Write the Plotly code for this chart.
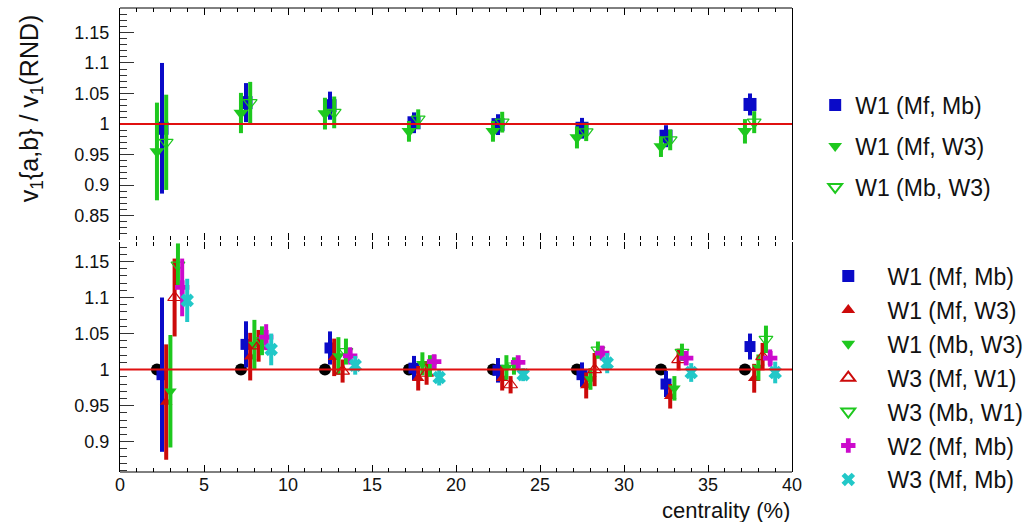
import plotly.graph_objects as go

# centrality bin centres (%)
centrality = [2.5, 7.5, 12.5, 17.5, 22.5, 27.5, 32.5, 37.5]

# v1{a,b} / v1(RND) ratios and their uncertainties
w1_mf_mb = [0.993, 1.035, 1.030, 1.002, 0.999, 0.993, 0.980, 1.032]
w1_mf_mb_err = [0.107, 0.032, 0.023, 0.017, 0.017, 0.017, 0.018, 0.018]
w1_mf_w3 = [0.955, 1.018, 1.017, 0.988, 0.988, 0.978, 0.963, 0.988]
w1_mf_w3_err = [0.080, 0.033, 0.026, 0.017, 0.017, 0.018, 0.017, 0.020]
w1_mb_w3 = [0.970, 1.035, 1.019, 1.008, 1.003, 0.987, 0.974, 1.003]
w1_mb_w3_err = [0.078, 0.034, 0.026, 0.016, 0.017, 0.015, 0.017, 0.018]
w3_mf_w1 = [1.100, 1.033, 0.998, 0.995, 0.979, 1.000, 1.014, 1.018]
w3_mf_w1_err = [0.054, 0.022, 0.016, 0.016, 0.012, 0.023, 0.015, 0.019]
w3_mb_w1 = [1.145, 1.040, 1.025, 1.005, 1.005, 1.027, 1.024, 1.042]
w3_mb_w1_err = [0.030, 0.020, 0.018, 0.015, 0.012, 0.012, 0.012, 0.019]
w2_mf_mb = [1.114, 1.045, 1.019, 1.011, 1.010, 1.023, 1.016, 1.016]
w2_mf_mb_err = [0.040, 0.018, 0.012, 0.010, 0.009, 0.010, 0.010, 0.012]
w3_mf_mb = [1.096, 1.028, 1.006, 0.989, 0.993, 1.009, 0.996, 0.996]
w3_mf_mb_err = [0.030, 0.022, 0.013, 0.011, 0.009, 0.014, 0.013, 0.015]
rnd_ref = [1.0, 1.0, 1.0, 1.0, 1.0, 1.0, 1.0, 1.0]

FONT = "Liberation Sans, Arial, Helvetica, sans-serif"
BLUE = "#0a0ac8"
GREEN = "#1ec81e"
RED = "#cc0a0a"
MAGENTA = "#cc0acc"
CYAN = "#22c8c8"

fig = go.Figure()


def add_series(name, xs, ys, errs, offset, color, symbol, size, xaxis, yaxis,
               legend, open_marker=False, group=None):
    marker = dict(symbol=symbol, size=size, color=color)
    if open_marker:
        marker["line"] = dict(color=color, width=1.2)
    else:
        marker["line"] = dict(width=0)
    fig.add_trace(go.Scatter(
        x=[c + offset for c in xs], y=ys, mode="markers", name=name,
        marker=marker,
        error_y=dict(type="data", array=errs, thickness=4, width=0,
                     color=color),
        xaxis=xaxis, yaxis=yaxis, legend=legend,
        legendgroup=group or name,
    ))


PAD = "\u00a0" * 3  # gap between legend symbol and label

# upper panel: W1 pairings
add_series("W1 (Mf, Mb)", centrality, w1_mf_mb, w1_mf_mb_err, 0.0, BLUE,
           "square", 13, "x2", "y2", "legend", group="t1")
add_series("W1 (Mf, W3)", centrality, w1_mf_w3, w1_mf_w3_err, -0.3, GREEN,
           "triangle-down", 13, "x2", "y2", "legend", group="t2")
add_series("W1 (Mb, W3)", centrality, w1_mb_w3, w1_mb_w3_err, 0.25, GREEN,
           "triangle-down-open", 12, "x2", "y2", "legend", open_marker=True,
           group="t3")

# lower panel: all pairings with the RND reference
fig.add_trace(go.Scatter(
    x=[c - 0.3 for c in centrality], y=rnd_ref, mode="markers",
    marker=dict(symbol="circle", size=12, color="black"),
    xaxis="x", yaxis="y", showlegend=False, hoverinfo="skip"))
add_series(PAD + "W1 (Mf, Mb)", centrality, w1_mf_mb, w1_mf_mb_err, 0.0,
           BLUE, "square", 11, "x", "y", "legend2", group="b1")
add_series(PAD + "W1 (Mf, W3)", centrality, w1_mf_w3, w1_mf_w3_err, 0.25,
           RED, "triangle-up", 11, "x", "y", "legend2", group="b2")
add_series(PAD + "W1 (Mb, W3)", centrality, w1_mb_w3, w1_mb_w3_err, 0.5,
           GREEN, "triangle-down", 11, "x", "y", "legend2", group="b3")
add_series(PAD + "W3 (Mf, W1)", centrality, w3_mf_w1, w3_mf_w1_err, 0.75,
           RED, "triangle-up-open", 12, "x", "y", "legend2",
           open_marker=True, group="b4")
add_series(PAD + "W3 (Mb, W1)", centrality, w3_mb_w1, w3_mb_w1_err, 0.95,
           GREEN, "triangle-down-open", 12, "x", "y", "legend2",
           open_marker=True, group="b5")
add_series(PAD + "W2 (Mf, Mb)", centrality, w2_mf_mb, w2_mf_mb_err, 1.2,
           MAGENTA, "cross", 12, "x", "y", "legend2", group="b6")
add_series(PAD + "W3 (Mf, Mb)", centrality, w3_mf_mb, w3_mf_mb_err, 1.5,
           CYAN, "x", 12, "x", "y", "legend2", group="b7")

tickfont = dict(family=FONT, size=18, color="#111")
xcommon = dict(range=[0, 40], dtick=5, tick0=0, ticks="inside", ticklen=7,
               tickcolor="black", mirror="ticks", showline=False,
               showgrid=False, zeroline=False,
               minor=dict(dtick=1, ticks="inside", ticklen=4,
                          tickcolor="black"))
ycommon = dict(ticks="inside", ticklen=14, tickcolor="#333", dtick=0.05,
               showline=True, mirror=True, linecolor="black", linewidth=1,
               showgrid=False, zeroline=False, tickfont=tickfont,
               ticklabelstandoff=6,
               minor=dict(dtick=0.01, ticks="inside", ticklen=7,
                          tickcolor="#333"))

fig.update_layout(
    width=1036, height=522,
    margin=dict(l=120, r=244, t=8, b=50),
    paper_bgcolor="white", plot_bgcolor="white",
    xaxis=dict(**xcommon, anchor="y", domain=[0, 1], tickfont=tickfont),
    xaxis2=dict(**xcommon, anchor="y2", domain=[0, 1], matches="x",
                showticklabels=False),
    yaxis=dict(**ycommon, anchor="x", domain=[0, 0.4957],
               range=[0.858, 1.177], tick0=0.9),
    yaxis2=dict(**ycommon, anchor="x2", domain=[0.5, 1],
                range=[0.81, 1.19], tick0=0.85),
    legend=dict(x=1.0345, y=0.837, xanchor="left", yanchor="top",
                bgcolor="rgba(0,0,0,0)", tracegroupgap=8,
                font=dict(family=FONT, size=23, color="#111"),
                itemsizing="constant"),
    legend2=dict(x=1.054, y=0.4686, xanchor="left", yanchor="top",
                 bgcolor="rgba(0,0,0,0)", tracegroupgap=1,
                 font=dict(family=FONT, size=23, color="#111"),
                 itemsizing="constant"),
    showlegend=True,
)

# unit-ratio reference lines in both panels
for xr, yr in (("x", "y"), ("x2", "y2")):
    fig.add_shape(type="line", xref=xr, yref=yr, x0=0, x1=40, y0=1, y1=1,
                  line=dict(color="#e01010", width=2), layer="above")

# horizontal frame borders
fig.add_shape(type="line", xref="paper", yref="paper", x0=0, x1=1, y0=1, y1=1,
              line=dict(color="black", width=1))
fig.add_shape(type="line", xref="paper", yref="paper", x0=0, x1=1, y0=0, y1=0,
              line=dict(color="black", width=1))

fig.add_annotation(
    text="v<sub>1</sub>{a,b} / v<sub>1</sub>(RND)", textangle=-90,
    xref="paper", yref="paper", x=-0.1324, y=0.784,
    xanchor="center", yanchor="middle", showarrow=False,
    font=dict(family=FONT, size=25, color="#111"))
fig.add_annotation(
    text="centrality (%)", xref="paper", yref="paper", x=1.0, y=-0.082,
    xanchor="right", yanchor="middle", showarrow=False,
    font=dict(family=FONT, size=22, color="#111"))

fig.write_html("out.html")
